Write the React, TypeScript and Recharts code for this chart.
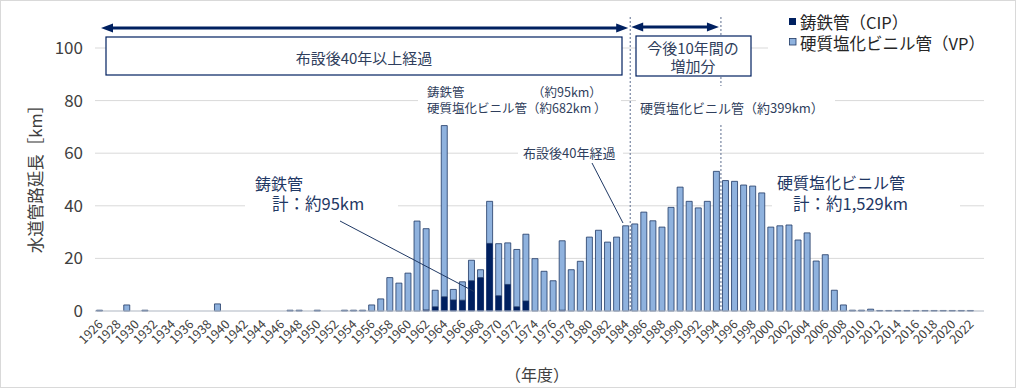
import { BarChart, Bar, XAxis, YAxis, CartesianGrid } from 'recharts'

// 年度 1926–2023
const YEARS = [
  1926, 1927, 1928, 1929,
  1930, 1931, 1932, 1933, 1934, 1935, 1936, 1937, 1938, 1939,
  1940, 1941, 1942, 1943, 1944, 1945, 1946, 1947, 1948, 1949,
  1950, 1951, 1952, 1953, 1954, 1955, 1956, 1957, 1958, 1959,
  1960, 1961, 1962, 1963, 1964, 1965, 1966, 1967, 1968, 1969,
  1970, 1971, 1972, 1973, 1974, 1975, 1976, 1977, 1978, 1979,
  1980, 1981, 1982, 1983, 1984, 1985, 1986, 1987, 1988, 1989,
  1990, 1991, 1992, 1993, 1994, 1995, 1996, 1997, 1998, 1999,
  2000, 2001, 2002, 2003, 2004, 2005, 2006, 2007, 2008, 2009,
  2010, 2011, 2012, 2013, 2014, 2015, 2016, 2017, 2018, 2019,
  2020, 2021, 2022, 2023,
]

// 鋳鉄管（CIP） km
const CIP = [
  0, 0, 0, 0,
  0, 0, 0, 0, 0, 0, 0, 0, 0, 0,
  0, 0, 0, 0, 0, 0, 0, 0, 0, 0,
  0, 0, 0, 0, 0, 0, 0, 0, 0, 0,
  0, 0, 0.4, 1.6, 5.4, 4.2, 4.1, 11.5, 12.7, 25.7,
  5.8, 10.1, 1.6, 3.8, 0, 0, 0, 0.3, 0, 0,
  0, 0, 0, 0, 0, 0, 0, 0, 0, 0,
  0, 0, 0, 0, 0, 0, 0, 0, 0, 0,
  0, 0, 0, 0, 0, 0, 0, 0, 0, 0,
  0, 0, 0, 0, 0, 0, 0, 0, 0, 0,
  0, 0, 0, 0,
]

// 硬質塩化ビニル管（VP） km
const VP = [
  0.3, 0, 0, 2.3,
  0, 0.3, 0, 0, 0, 0, 0, 0, 0, 2.7,
  0, 0, 0, 0, 0, 0, 0, 0.3, 0.3, 0,
  0.3, 0, 0, 0.3, 0.3, 0.3, 2.3, 4.6, 12.7, 10.6,
  14.4, 34.2, 30.9, 6.3, 65.1, 4.0, 7.0, 7.8, 3.0, 16.0,
  19.8, 15.8, 21.8, 25.4, 19.9, 15.1, 11.5, 26.4, 15.7, 18.9,
  28.1, 30.7, 26.2, 28.1, 32.4, 33.1, 37.6, 34.3, 31.9, 39.4,
  47.1, 41.7, 39.2, 41.7, 53.1, 49.6, 49.3, 47.9, 47.5, 44.9,
  31.9, 32.4, 32.7, 27.0, 29.7, 19.0, 21.4, 7.9, 2.3, 0.3,
  0.3, 0.7, 0.2, 0.2, 0.2, 0.2, 0.2, 0.2, 0.2, 0.2,
  0.2, 0.2, 0.2, 0,
]

const Y_TICKS = [0, 20, 40, 60, 80, 100]

const data = YEARS.map((y, i) => ({ year: String(y), cip: CIP[i], vp: VP[i] }))

const W = 1016
const H = 388
const PLOT_LEFT = 95
const PLOT_RIGHT = 984
const PLOT_TOP = 48
const PLOT_BOTTOM = 311
const BAND = (PLOT_RIGHT - PLOT_LEFT) / YEARS.length
// x of the left edge of a year's band
const edgeOf = (year: number) => PLOT_LEFT + YEARS.indexOf(year) * BAND

const NAVY = '#002060'
const LIGHT = '#8fb2de'
const TEXT_NAVY = '#1f3864'
const FONT = '"Noto Sans CJK JP", "Noto Sans", sans-serif'

function YearTick({ x, y, payload }: any) {
  return (
    <g transform={`translate(${x + 1},${y + 3})`}>
      <text
        textAnchor="end"
        transform="rotate(-45)"
        dy="0.35em"
        fontSize={12.5}
        fill="#404040"
        fontFamily={FONT}
      >
        {payload.value}
      </text>
    </g>
  )
}

function Arrow({ x1, x2, y }: { x1: number; x2: number; y: number }) {
  const len = 12
  const half = 4.5
  return (
    <g>
      <line x1={x1 + len - 1} x2={x2 - len + 1} y1={y} y2={y} stroke={NAVY} strokeWidth={3} />
      <polygon points={`${x1},${y} ${x1 + len},${y - half} ${x1 + len},${y + half}`} fill={NAVY} />
      <polygon points={`${x2},${y} ${x2 - len},${y - half} ${x2 - len},${y + half}`} fill={NAVY} />
    </g>
  )
}

function Overlay() {
  const d1 = edgeOf(1985)
  const d2 = edgeOf(1995)
  return (
    <svg
      width={W}
      height={H}
      style={{ position: 'absolute', left: 0, top: 0, pointerEvents: 'none' }}
      fontFamily={FONT}
    >
      {/* 区切りの点線 */}
      <line x1={d1} x2={d1} y1={17} y2={PLOT_BOTTOM} stroke="#5d6d8f" strokeWidth={1} strokeDasharray="2 2" />
      <line x1={d2} x2={d2} y1={17} y2={PLOT_BOTTOM} stroke="#5d6d8f" strokeWidth={1} strokeDasharray="2 2" />

      {/* 矢印 */}
      <Arrow x1={101} x2={d1 - 2} y={28} />
      <Arrow x1={d1 + 1} x2={d2 - 2} y={27} />

      {/* 枠 */}
      <rect x={106} y={37} width={516} height={38} fill="#fff" stroke={NAVY} strokeWidth={1.2} />
      <text x={364} y={57} textAnchor="middle" dominantBaseline="central" fontSize={15} fill="#2f3e5c">
        布設後40年以上経過
      </text>
      <rect x={636} y={36} width={115} height={40} fill="#fff" stroke={NAVY} strokeWidth={1.2} />
      <text x={693} y={47} textAnchor="middle" dominantBaseline="central" fontSize={15} fill="#2f3e5c">
        今後10年間の
      </text>
      <text x={693} y={65} textAnchor="middle" dominantBaseline="central" fontSize={15} fill="#2f3e5c">
        増加分
      </text>

      {/* 凡例 */}
      <rect x={768} y={10} width={222} height={46} fill="#fff" />
      <rect x={789} y={18} width={7} height={7} fill={NAVY} />
      <text x={800} y={21.5} dominantBaseline="central" fontSize={16.5} fill="#262626">
        鋳鉄管（CIP）
      </text>
      <rect x={789.5} y={38.5} width={6.5} height={6.5} fill={LIGHT} stroke={TEXT_NAVY} strokeWidth={0.8} />
      <text x={800} y={42.5} dominantBaseline="central" fontSize={16.5} fill="#262626">
        硬質塩化ビニル管（VP）
      </text>

      {/* 小計 */}
      <rect x={418} y={82} width={203} height={35} fill="#fff" />
      <text x={427} y={91} dominantBaseline="central" fontSize={12.5} fill="#2f3e5c">
        鋳鉄管
      </text>
      <text x={532} y={91} dominantBaseline="central" fontSize={12.5} fill="#2f3e5c">
        （約95km）
      </text>
      <text x={427} y={107.5} dominantBaseline="central" fontSize={12.5} fill="#2f3e5c">
        硬質塩化ビニル管（約682km ）
      </text>
      <rect x={636} y={86} width={199} height={38} fill="#fff" />
      <text x={640} y={107} dominantBaseline="central" fontSize={13} fill="#2f3e5c">
        硬質塩化ビニル管（約399km）
      </text>

      <rect x={518} y={143} width={105} height={19} fill="#fff" />
      <text x={523} y={152} dominantBaseline="central" fontSize={13} fill="#2f3e5c">
        布設後40年経過
      </text>
      <line x1={592} y1={163} x2={623} y2={223} stroke={TEXT_NAVY} strokeWidth={1} />

      {/* 合計 */}
      <rect x={245} y={170} width={153} height={44} fill="#fff" />
      <text x={255} y={183} dominantBaseline="central" fontSize={16} fill={TEXT_NAVY}>
        鋳鉄管
      </text>
      <text x={272} y={203} dominantBaseline="central" fontSize={16.5} fill={TEXT_NAVY}>
        計：約95km
      </text>
      <line x1={340} y1={221} x2={475} y2={292} stroke={TEXT_NAVY} strokeWidth={1} />

      <rect x={772} y={170} width={188} height={44} fill="#fff" />
      <text x={777} y={182} dominantBaseline="central" fontSize={16} fill={TEXT_NAVY}>
        硬質塩化ビニル管
      </text>
      <text x={793} y={203} dominantBaseline="central" fontSize={16.5} fill={TEXT_NAVY}>
        計：約1,529km
      </text>

      {/* 軸ラベル */}
      <text
        x={35}
        y={175}
        textAnchor="middle"
        dominantBaseline="central"
        fontSize={16.5}
        fill="#404040"
        transform="rotate(-90 35 175)"
      >
        水道管路延長［km］
      </text>
      <text x={537} y={374} textAnchor="middle" dominantBaseline="central" fontSize={16} fill="#404040">
        （年度）
      </text>

      {/* 外枠 */}
      <rect x={0.5} y={0.5} width={W - 1} height={H - 1} fill="none" stroke="#d9d9d9" strokeWidth={1} />
    </svg>
  )
}

export default function App() {
  return (
    <div style={{ position: 'absolute', left: 0, top: 0, width: W, height: H, background: '#fff' }}>
      <BarChart
        width={W}
        height={H}
        data={data}
        margin={{ top: PLOT_TOP, right: W - PLOT_RIGHT, bottom: H - PLOT_BOTTOM - 40, left: PLOT_LEFT - 50 }}
        barCategoryGap="17%"
      >
        <CartesianGrid vertical={false} stroke="#d9d9d9" />
        <XAxis
          dataKey="year"
          interval={1}
          tickLine={false}
          axisLine={{ stroke: '#c0c8d4' }}
          height={40}
          tick={<YearTick />}
        />
        <YAxis
          width={50}
          domain={[0, 100]}
          ticks={Y_TICKS}
          axisLine={false}
          tickLine={false}
          tickMargin={6}
          tick={{ fontSize: 17, fill: '#404040', fontFamily: FONT }}
        />
        <Bar dataKey="cip" stackId="a" fill={NAVY} stroke={NAVY} strokeWidth={0.8} isAnimationActive={false} />
        <Bar dataKey="vp" stackId="a" fill={LIGHT} stroke={TEXT_NAVY} strokeWidth={0.8} isAnimationActive={false} />
      </BarChart>
      <Overlay />
    </div>
  )
}
